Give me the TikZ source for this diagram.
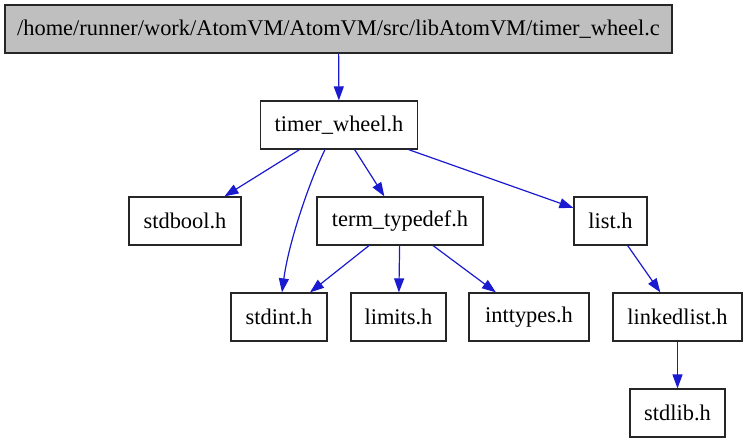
\documentclass[tikz,border=0pt]{standalone}
\usepackage{fontspec}
\setmainfont{Liberation Serif}
\usepackage{tikz}
\usetikzlibrary{positioning,calc}
\usetikzlibrary{arrows.meta}
\definecolor{EdgeBlue}{RGB}{26,26,208}
\definecolor{RootGray}{RGB}{191,191,191}
\tikzset{
	hfile/.style={draw=black!85,fill=white,line width=0.6pt,inner sep=0pt,
		minimum height=24pt,font=\fontsize{11.2}{14}\selectfont},
	rootfile/.style={hfile,fill=RootGray},
	dep/.style={draw=EdgeBlue,line width=0.6pt,-{Triangle[length=7pt,width=5pt]}},
}

\begin{document}
\begin{tikzpicture}[x=0.5pt,y=-0.5pt]
			\useasboundingbox[fill=white] (0,0) rectangle (747,443);
			% files
			\node[rootfile,minimum width=333.5pt] (root) at (338.5,29) {/home/runner/work/AtomVM/AtomVM/src/libAtomVM/timer\_wheel.c};
			\node[hfile,minimum width=78.5pt] (tw) at (339,125) {timer\_wheel.h};
			\node[hfile,minimum width=56pt] (stdbool) at (185,221) {stdbool.h};
			\node[hfile,minimum width=83pt] (term) at (400,221) {term\_typedef.h};
			\node[hfile,minimum width=36.5pt] (list) at (610.5,221) {list.h};
			\node[hfile,minimum width=48pt] (stdint) at (279,317) {stdint.h};
			\node[hfile,minimum width=47.5pt] (limits) at (398.5,317) {limits.h};
			\node[hfile,minimum width=60pt] (inttypes) at (529,317) {inttypes.h};
			\node[hfile,minimum width=64.5pt] (linkedlist) at (677.5,317) {linkedlist.h};
			\node[hfile,minimum width=47.5pt] (stdlib) at (677.5,413) {stdlib.h};
			% includes
			\draw[dep] (root) -- (tw);
			\draw[dep] (tw) -- (stdbool);
			\draw[dep] ($(tw.south)+(-14,0)$) .. controls (311,178) and (289,240) .. ($(stdint.north)+(3,0)$);
			\draw[dep] (tw) -- (term);
			\draw[dep] (tw) -- (list);
			\draw[dep] (term) -- (stdint);
			\draw[dep] (term) -- (limits);
			\draw[dep] (term) -- (inttypes);
			\draw[dep] (list) -- (linkedlist);
			\draw[dep] (linkedlist) -- (stdlib);
		\end{tikzpicture}
\end{document}
